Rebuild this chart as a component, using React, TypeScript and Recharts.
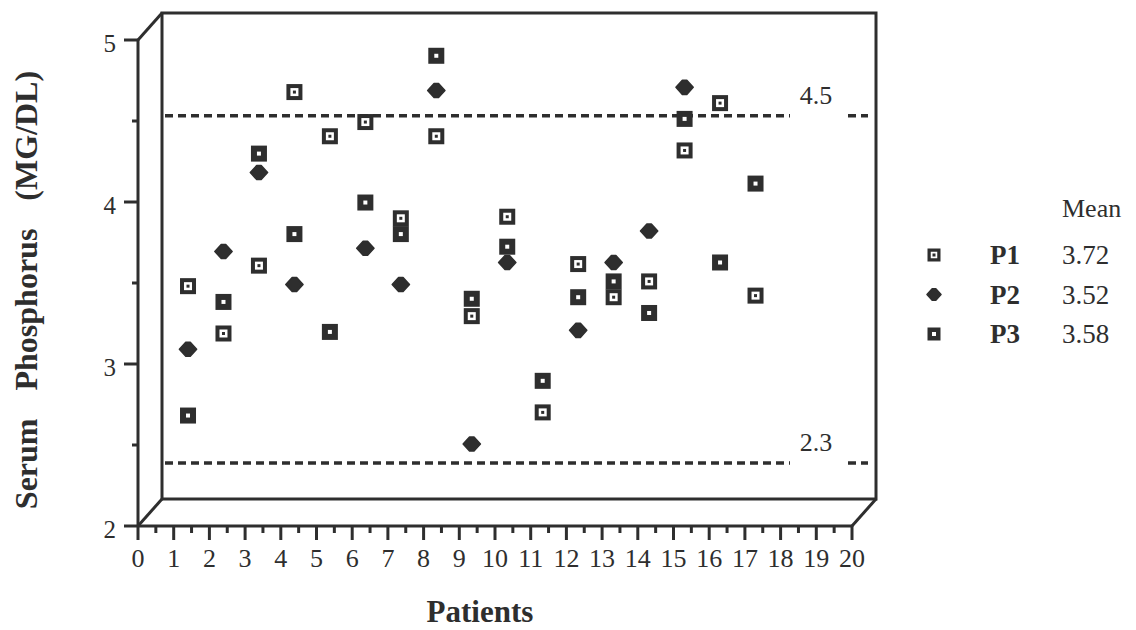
import React from 'react';
import {
  ScatterChart,
  Scatter,
  XAxis,
  YAxis,
  ReferenceLine,
  ReferenceArea,
  Legend,
} from 'recharts';

// ---- data ----
const PATIENTS = [1, 2, 3, 4, 5, 6, 7, 8, 9, 10, 11, 12, 13, 14, 15, 16, 17];
const P1_VALUES = [3.42, 3.12, 3.55, 4.65, 4.37, 4.46, 3.85, 4.37, 3.23, 3.86, 2.62, 3.56, 3.35, 3.45, 4.28, 4.58, 3.36];
const P2_PATIENTS = [1, 2, 3, 4, 6, 7, 8, 9, 10, 12, 13, 14, 15];
const P2_VALUES = [3.02, 3.64, 4.14, 3.43, 3.66, 3.43, 4.66, 2.42, 3.57, 3.14, 3.57, 3.77, 4.68];
const P3_VALUES = [2.6, 3.32, 4.26, 3.75, 3.13, 3.95, 3.75, 4.88, 3.34, 3.67, 2.82, 3.35, 3.45, 3.25, 4.48, 3.57, 4.07];

const SERIES_NAMES = ['P1', 'P2', 'P3'];
const SERIES_MEANS = ['3.72', '3.52', '3.58'];
const NORMAL_LIMITS = [4.5, 2.3];

const X_TICK_LABELS = [0, 1, 2, 3, 4, 5, 6, 7, 8, 9, 10, 11, 12, 13, 14, 15, 16, 17, 18, 19, 20];
const Y_TICK_LABELS = [2, 3, 4, 5];

// half-step minor ticks between the labelled ones
const X_TICKS = X_TICK_LABELS.flatMap((t, i) => (i === 0 ? [t] : [t - 0.5, t]));
const Y_TICKS = Y_TICK_LABELS.flatMap((t, i) => (i === 0 ? [t] : [t - 0.5, t]));

const p1Data = PATIENTS.map((x, i) => ({ x, y: P1_VALUES[i] }));
const p2Data = P2_PATIENTS.map((x, i) => ({ x, y: P2_VALUES[i] }));
const p3Data = PATIENTS.map((x, i) => ({ x, y: P3_VALUES[i] }));

// the marks sit on a plane set back from the front axes (fake 3D box)
const DEPTH_X_DOMAIN = [-0.41, 19.72];
const DEPTH_Y_DOMAIN = [1.9, 4.98];
const BOX_DX = 24;
const BOX_DY = -27;

const INK = '#2e2e2e';
const SERIF = "'Liberation Serif', 'Times New Roman', serif";

function OpenSquare({ cx, cy, s = 16 }: any) {
  const h = s / 2;
  const w = s * 0.5;
  return (
    <g>
      <rect x={cx - h} y={cy - h} width={s} height={s} fill={INK} />
      <rect x={cx - w / 2} y={cy - w / 2} width={w} height={w} fill="#fff" />
      <rect x={cx - 1.5} y={cy - 1.5} width={3} height={3} fill={INK} />
    </g>
  );
}

function FilledSquare({ cx, cy, s = 16 }: any) {
  const h = s / 2;
  return (
    <g>
      <rect x={cx - h} y={cy - h} width={s} height={s} fill={INK} />
      <rect x={cx - 2} y={cy - 2} width={4} height={4} fill="#fff" />
    </g>
  );
}

function Diamond({ cx, cy, s = 16 }: any) {
  const a = s * 0.54;
  const b = s * 0.14;
  const v = s * 0.44;
  return (
    <path
      d={`M${cx - a},${cy} L${cx - b},${cy - v} L${cx + b},${cy - v} L${cx + a},${cy} L${cx + b},${cy + v} L${cx - b},${cy + v} Z`}
      fill={INK}
      stroke={INK}
      strokeWidth={1.5}
      strokeLinejoin="round"
    />
  );
}

const MARKERS = [OpenSquare, Diamond, FilledSquare];

function BoxFrame({ x, y, width, height }: any) {
  const l = x;
  const r = x + width;
  const t = y;
  const b = y + height;
  return (
    <g fill="none" stroke={INK} strokeWidth={3} strokeLinejoin="miter">
      <rect x={l + BOX_DX} y={t + BOX_DY} width={width} height={height} />
      <line x1={l} y1={t} x2={l + BOX_DX} y2={t + BOX_DY} />
      <line x1={l} y1={b} x2={l + BOX_DX} y2={b + BOX_DY} />
      <line x1={r} y1={b} x2={r + BOX_DX} y2={b + BOX_DY} />
    </g>
  );
}

function LimitLine({ x1, y1, x2, text }: any) {
  return (
    <g>
      <g stroke={INK} strokeWidth={3.5} strokeDasharray="8 5">
        <line x1={x1 + 27} y1={y1} x2={x2 - 62} y2={y1} />
        <line x1={x2 - 4} y1={y1} x2={x2 + 16} y2={y1} />
      </g>
      <text x={x2 - 36} y={y1 - 12} textAnchor="middle" fontFamily={SERIF} fontSize={26} fill={INK}>
        {text}
      </text>
    </g>
  );
}

function XTick({ x, y, payload }: any) {
  const major = Number.isInteger(payload.value);
  return (
    <g>
      <line x1={x} x2={x} y1={y} y2={y + (major ? 14 : 7)} stroke={INK} strokeWidth={3} />
      {major && (
        <text x={x} y={y + 41} textAnchor="middle" fontFamily={SERIF} fontSize={26} fill={INK}>
          {payload.value}
        </text>
      )}
    </g>
  );
}

function YTick({ x, y, payload }: any) {
  const major = Number.isInteger(payload.value);
  return (
    <g>
      <line x1={x - (major ? 14 : 6)} x2={x} y1={y} y2={y} stroke={INK} strokeWidth={3} />
      {major && (
        <text x={x - 22} y={y + 12} textAnchor="end" fontFamily={SERIF} fontSize={25} fill={INK}>
          {payload.value}
        </text>
      )}
    </g>
  );
}

const renderYTitle = ({ viewBox }: any) => {
  const cx = viewBox.x + 29;
  const cy = viewBox.y + viewBox.height / 2 + 7;
  return (
    <text
      x={cx}
      y={cy}
      transform={`rotate(-90, ${cx}, ${cy})`}
      textAnchor="middle"
      fontFamily={SERIF}
      fontWeight="bold"
      fontSize={32}
      wordSpacing={20}
      fill={INK}
    >
      Serum Phosphorus (MG/DL)
    </text>
  );
};

const renderXTitle = ({ viewBox }: any) => (
  <text
    x={viewBox.x + viewBox.width / 2 - 15}
    y={viewBox.y + 96}
    textAnchor="middle"
    fontFamily={SERIF}
    fontWeight="bold"
    fontSize={31}
    fill={INK}
  >
    Patients
  </text>
);

const renderLegend = ({ payload }: any) => (
  <svg width={236} height={180} style={{ display: 'block' }}>
    <text x={162} y={37} fontFamily={SERIF} fontSize={26} fill={INK}>
      Mean
    </text>
    {(payload || []).map((entry: any) => {
      const i = SERIES_NAMES.indexOf(entry.value);
      if (i < 0) return null;
      const Marker = MARKERS[i];
      const cy = 75 + i * 39.5;
      return (
        <g key={entry.value}>
          <Marker cx={34} cy={cy} s={13} />
          <text x={90} y={cy + 9} fontFamily={SERIF} fontWeight="bold" fontSize={27} fill={INK}>
            {entry.value}
          </text>
          <text x={162} y={cy + 9} fontFamily={SERIF} fontSize={27} fill={INK}>
            {SERIES_MEANS[i]}
          </text>
        </g>
      );
    })}
  </svg>
);

export default function App() {
  return (
    <div style={{ width: 1136, height: 630, background: '#fff' }}>
      <style>{'body{margin:0;background:#fff;}'}</style>
      <ScatterChart width={1136} height={630} margin={{ top: 40, right: 284, bottom: 4, left: 8 }}>
        <XAxis
          xAxisId="depth"
          type="number"
          dataKey="x"
          domain={DEPTH_X_DOMAIN}
          allowDataOverflow
          height={0}
          hide
        />
        <YAxis
          yAxisId="depth"
          type="number"
          dataKey="y"
          domain={DEPTH_Y_DOMAIN}
          allowDataOverflow
          width={0}
          hide
        />
        <XAxis
          xAxisId="front"
          type="number"
          dataKey="x"
          domain={[0, 20]}
          ticks={X_TICKS}
          interval={0}
          allowDataOverflow
          height={100}
          tickSize={0}
          tickMargin={0}
          tickLine={false}
          tick={<XTick />}
          axisLine={{ stroke: INK, strokeWidth: 3 }}
          label={renderXTitle}
        />
        <YAxis
          yAxisId="front"
          type="number"
          dataKey="y"
          domain={[2, 5]}
          ticks={Y_TICKS}
          interval={0}
          allowDataOverflow
          width={130}
          tickSize={0}
          tickMargin={0}
          tickLine={false}
          tick={<YTick />}
          axisLine={{ stroke: INK, strokeWidth: 3 }}
          label={renderYTitle}
        />

        <ReferenceArea
          xAxisId="front"
          yAxisId="front"
          x1={0}
          x2={20}
          y1={2}
          y2={5}
          ifOverflow="visible"
          shape={(p: any) => <BoxFrame {...p} />}
        />
        {NORMAL_LIMITS.map((v) => (
          <ReferenceLine
            key={v}
            xAxisId="depth"
            yAxisId="depth"
            y={v}
            ifOverflow="visible"
            shape={(p: any) => <LimitLine x1={p.x1} y1={p.y1} x2={p.x2} text={String(v)} />}
          />
        ))}

        <Scatter
          name="P1"
          data={p1Data}
          xAxisId="depth"
          yAxisId="depth"
          fill={INK}
          isAnimationActive={false}
          shape={(p: any) => <OpenSquare cx={p.cx} cy={p.cy} />}
        />
        <Scatter
          name="P2"
          data={p2Data}
          xAxisId="depth"
          yAxisId="depth"
          fill={INK}
          isAnimationActive={false}
          shape={(p: any) => <Diamond cx={p.cx} cy={p.cy} />}
        />
        <Scatter
          name="P3"
          data={p3Data}
          xAxisId="depth"
          yAxisId="depth"
          fill={INK}
          isAnimationActive={false}
          shape={(p: any) => <FilledSquare cx={p.cx} cy={p.cy} />}
        />

        <Legend
          layout="vertical"
          align="center"
          verticalAlign="middle"
          content={renderLegend}
          wrapperStyle={{ left: 900, top: 180, width: 236, height: 180 }}
        />
      </ScatterChart>
    </div>
  );
}
